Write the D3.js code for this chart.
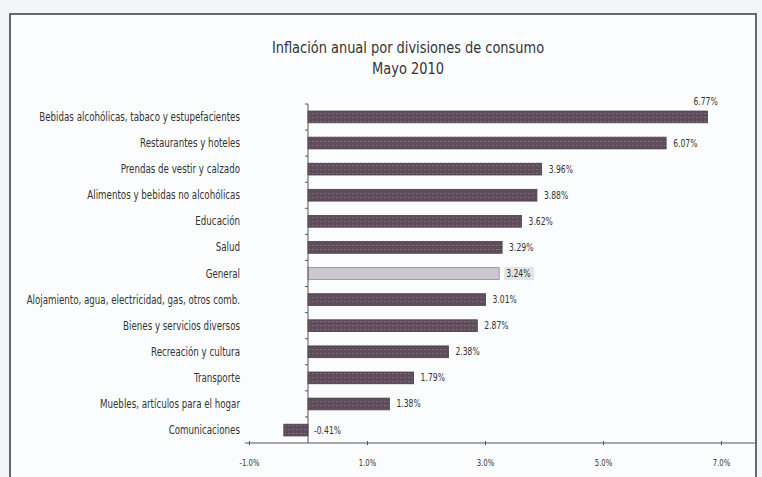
<!DOCTYPE html>
<html><head><meta charset="utf-8">
<script src="https://cdn.jsdelivr.net/npm/d3@7"></script>
<style>
html,body{margin:0;padding:0;background:#f3f5f9;}
svg{display:block;}
text{font-family:"Liberation Sans Narrow","DejaVu Sans Condensed","Liberation Sans",sans-serif;}
</style></head>
<body>
<svg id="c" width="762" height="477"></svg>
<script>
const categories = [
  "Bebidas alcohólicas, tabaco y estupefacientes",
  "Restaurantes y hoteles",
  "Prendas de vestir y calzado",
  "Alimentos y bebidas no alcohólicas",
  "Educación",
  "Salud",
  "General",
  "Alojamiento, agua, electricidad, gas, otros comb.",
  "Bienes y servicios diversos",
  "Recreación y cultura",
  "Transporte",
  "Muebles, artículos para el hogar",
  "Comunicaciones"
];
const values = [6.77, 6.07, 3.96, 3.88, 3.62, 3.29, 3.24, 3.01, 2.87, 2.38, 1.79, 1.38, -0.41];
const valueLabels = ["6.77%", "6.07%", "3.96%", "3.88%", "3.62%", "3.29%", "3.24%", "3.01%", "2.87%", "2.38%", "1.79%", "1.38%", "-0.41%"];
const tickValues = [-1, 1, 3, 5, 7];
const tickLabels = ["-1.0%", "1.0%", "3.0%", "5.0%", "7.0%"];
const highlight = "General";
const titleLines = ["Inflación anual por divisiones de consumo", "Mayo 2010"];

const svg = d3.select("#c");
function condense(sel, f) {
  sel.each(function() {
    const w = this.getComputedTextLength();
    d3.select(this).attr("textLength", w * f).attr("lengthAdjust", "spacingAndGlyphs");
  });
}
// frame
svg.append("rect").attr("x", 10).attr("y", 14).attr("width", 746).attr("height", 470)
  .attr("fill", "#fbfcfd").attr("stroke", "#444").attr("stroke-width", 1.6);

const x = d3.scaleLinear().domain([-1, 7]).range([249, 721]);
const y = d3.scaleBand().domain(categories).range([104, 443]).paddingInner(0.55).paddingOuter(0.27);

// title
svg.append("g").selectAll("text").data(titleLines).join("text")
  .attr("x", 408).attr("y", (d, i) => 53 + i * 21)
  .attr("text-anchor", "middle").attr("font-size", 16).attr("fill", "#333")
  .text(d => d).call(condense, 0.9);

// bars
const defs = svg.append("defs");
const pat = defs.append("pattern").attr("id", "hatch").attr("width", 4).attr("height", 4)
  .attr("patternUnits", "userSpaceOnUse");
pat.append("rect").attr("width", 4).attr("height", 4).attr("fill", "#5f4d5c");
pat.append("rect").attr("x", 0).attr("y", 1).attr("width", 2).attr("height", 1).attr("fill", "#7d6c7a");

svg.append("g").selectAll("rect").data(categories).join("rect")
  .attr("x", (d, i) => Math.min(x(0), x(values[i])))
  .attr("y", d => y(d))
  .attr("width", (d, i) => Math.abs(x(values[i]) - x(0)))
  .attr("height", y.bandwidth())
  .attr("fill", d => d === highlight ? "#cdc8d0" : "url(#hatch)")
  .attr("stroke", d => d === highlight ? "#8a8490" : "#4a3b48")
  .attr("stroke-width", 0.8);

// value labels
const lab = svg.append("g");
categories.forEach((c, i) => {
  const v = values[i];
  const top = x(v) > 700;
  const tx = top ? x(v) - 14 : (v < 0 ? x(0) + 6 : x(v) + 7);
  const ty = top ? y(c) - 6 : y(c) + y.bandwidth() / 2 + 3.5;
  if (c === highlight) {
    lab.append("rect").attr("x", tx - 2).attr("y", ty - 10).attr("width", 30).attr("height", 13).attr("fill", "#e4e4e8");
  }
  lab.append("text").attr("x", tx).attr("y", ty).attr("font-size", 10).attr("fill", "#333")
    .attr("text-anchor", "start").text(valueLabels[i]).call(condense, 0.85);
});

// category labels
svg.append("g").selectAll("text").data(categories).join("text")
  .attr("x", 240).attr("y", d => y(d) + y.bandwidth() / 2 + 4)
  .attr("text-anchor", "end").attr("font-size", 11.5).attr("fill", "#333")
  .text(d => d).call(condense, 0.84);

// y axis line at zero with small ticks at category boundaries
const yAxisG = svg.append("g");
yAxisG.append("line").attr("x1", x(0)).attr("x2", x(0)).attr("y1", 104).attr("y2", 443)
  .attr("stroke", "#555").attr("stroke-width", 1);
const bounds = d3.range(categories.length).map(i => 104 + i * (339 / categories.length));
yAxisG.selectAll("line.t").data(bounds).join("line").attr("class", "t")
  .attr("x1", x(0) - 3).attr("x2", x(0)).attr("y1", d => d).attr("y2", d => d)
  .attr("stroke", "#555");

// x axis
const xAxis = d3.axisBottom(x).tickValues(tickValues).tickFormat((d, i) => tickLabels[i]).tickSize(3).tickPadding(14);
const gx = svg.append("g").attr("transform", "translate(0,443)").call(xAxis);
gx.select(".domain").remove();
gx.append("line").attr("x1", x(-1.07)).attr("x2", x(7.6)).attr("stroke", "#555").attr("stroke-width", 1.2);
gx.selectAll(".tick line").attr("stroke", "#555").attr("y1", -2).attr("y2", 2);
gx.selectAll(".tick text").attr("font-size", 9).attr("fill", "#333")
  .attr("font-family", "'Liberation Sans Narrow','DejaVu Sans Condensed',sans-serif")
  .call(condense, 0.85);
</script>
</body></html>
